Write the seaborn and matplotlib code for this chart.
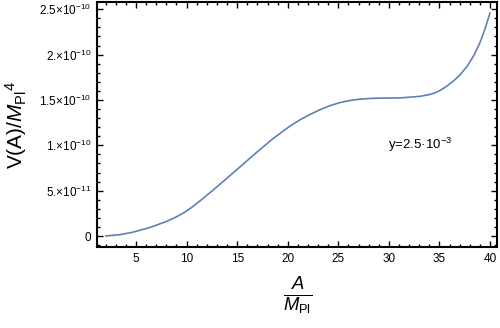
import numpy as np
import matplotlib
matplotlib.use("Agg")
import matplotlib.pyplot as plt
import seaborn as sns
from matplotlib.ticker import FixedLocator, MultipleLocator

# values (V in units of 1e-11)
field = [2.0, 3.4, 4.7, 6.4, 8.0, 8.8, 9.7, 10.5, 11.3, 12.5, 13.6, 14.8, 16.8,
         18.5, 20.2, 21.2, 22.2, 23.2, 24.2, 25.2, 26.2, 27.1, 28.1, 29.1, 31.1,
         33.1, 34.1, 34.6, 35.1, 35.7, 36.4, 37.0, 37.7, 38.4, 39.0, 39.5, 40.0]
potential = [0.0, 0.15, 0.42, 0.95, 1.6, 2.0, 2.55, 3.15, 3.85, 4.95, 6.0, 7.15, 9.1,
             10.7, 12.1, 12.8, 13.4, 13.93, 14.38, 14.72, 14.95, 15.08, 15.16, 15.2, 15.22,
             15.4, 15.62, 15.8, 16.07, 16.5, 17.1, 17.72, 18.65, 19.9, 21.3, 22.8, 24.6]

x_ticks = [5, 10, 15, 20, 25, 30, 35, 40]
y_ticks = [0, 5e-11, 1e-10, 1.5e-10, 2e-10, 2.5e-10]
y_tick_labels = ["0", "5.×10$^{-11}$", "1.×10$^{-10}$", "1.5×10$^{-10}$",
                 "2.×10$^{-10}$", "2.5×10$^{-10}$"]

sns.set_style("ticks")
plt.rcParams["font.family"] = ["Liberation Sans", "DejaVu Sans"]
plt.rcParams["mathtext.fontset"] = "custom"
plt.rcParams["mathtext.rm"] = "Liberation Sans"
plt.rcParams["mathtext.it"] = "Liberation Sans:italic"

fig = plt.figure(figsize=(5, 3.28), dpi=100)
ax = fig.add_axes([0.194, 0.247, 0.8, 0.747])

sns.lineplot(x=field, y=np.array(potential) * 1e-11, ax=ax,
             color="#5E81B5", linewidth=1.2)

ax.set_xlim(1.14, 40.69)
ax.set_ylim(-1.21e-11, 2.58e-10)

ax.xaxis.set_major_locator(FixedLocator(x_ticks))
ax.xaxis.set_minor_locator(MultipleLocator(1))
ax.yaxis.set_major_locator(FixedLocator(y_ticks))
ax.yaxis.set_minor_locator(MultipleLocator(1e-11))
ax.set_yticklabels(y_tick_labels)

ax.tick_params(which="both", direction="in", top=True, right=True,
               labelsize=8.5, color="black", labelcolor="black", width=1)
ax.tick_params(which="major", length=4, pad=4)
ax.tick_params(which="minor", length=2)
for s in ax.spines.values():
    s.set_linewidth(1.5)
    s.set_color("black")

ax.set_xlabel("")
ax.set_ylabel("V(A)/${M_{\\rm Pl}}^{4}$", fontsize=15, color="black")
ax.yaxis.set_label_coords(-0.17, 0.5)

fig.text(0.596, 0.095, r"$\frac{A}{M_{\rm Pl}}$", fontsize=19,
         ha="center", va="center", color="black")

ax.text(0.7275, 0.416, "y=2.5·10$^{-3}$", transform=ax.transAxes,
        fontsize=9.5, ha="left", va="center", color="black")

fig.savefig("out.png", dpi=100)
